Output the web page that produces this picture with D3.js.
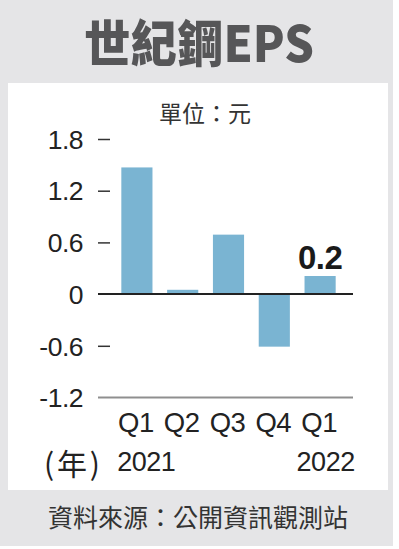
<!DOCTYPE html>
<html><head><meta charset="utf-8">
<script src="https://cdn.jsdelivr.net/npm/d3@7"></script>
<style>html,body{margin:0;padding:0;background:#fff;}svg{display:block;}</style>
</head><body>
<svg id="c" width="399" height="549"></svg>
<script>
const categories = ["Q1","Q2","Q3","Q4","Q1 "];
const quarterLabels = ["Q1","Q2","Q3","Q4","Q1"];
const eps = [1.47, 0.05, 0.69, -0.61, 0.21];
const yTicks = [-1.2, -0.6, 0, 0.6, 1.2, 1.8];
const yearLabels = ["2021", "2022"];
const title = "世紀鋼EPS";
const unit = "單位：元";
const yearUnit = "(年)";
const source = "資料來源：公開資訊觀測站";
const highlight = "0.2";

const svg = d3.select("#c");
const latin = "'Liberation Sans', Arial, sans-serif";
const cjk = "'Noto Sans CJK TC', 'Noto Sans CJK SC', sans-serif";

// frame
svg.append("rect").attr("x",0).attr("y",0).attr("width",393).attr("height",546).attr("fill","#e5e5e7");
svg.append("rect").attr("x",8).attr("y",83).attr("width",380).attr("height",407).attr("fill","#ffffff");

// title
svg.append("text").attr("x",199).attr("y",62).attr("text-anchor","middle")
  .attr("font-family",cjk).attr("font-weight",900).attr("font-size",50)
  .attr("fill","#565658").attr("textLength",230).attr("lengthAdjust","spacingAndGlyphs")
  .text(title);

// unit
svg.append("text").attr("x",205).attr("y",122).attr("text-anchor","middle")
  .attr("font-family",cjk).attr("font-size",23).attr("fill","#333").text(unit);

const y = d3.scaleLinear().domain([-1.2, 1.8]).range([397.5, 139]);
const x = d3.scaleBand().domain(categories).range([114, 343]).paddingInner(0.32).paddingOuter(0.16);

// y axis
const yAxis = svg.append("g").attr("transform","translate(110,0)")
  .call(d3.axisLeft(y).tickValues(yTicks).tickSize(12).tickPadding(15)
    .tickFormat(d => d === 0 ? "0" : d.toFixed(1)));
yAxis.select(".domain").remove();
yAxis.selectAll(".tick line").attr("stroke","#333").attr("stroke-width",1.5)
  .filter(d => d === 0 || d === -1.2).remove();
yAxis.selectAll(".tick text").attr("font-family",latin).attr("font-size",26.5)
  .attr("fill","#222").attr("dy","0.35em").attr("letter-spacing",-0.5);

// bars
svg.append("g").selectAll("rect").data(eps).join("rect")
  .attr("x",(d,i)=>x(categories[i]))
  .attr("width",x.bandwidth())
  .attr("y",d=>y(Math.max(0,d)))
  .attr("height",d=>Math.abs(y(d)-y(0)))
  .attr("fill","#7ab4d2");

// zero line and bottom line
svg.append("line").attr("x1",98).attr("x2",353).attr("y1",y(0)).attr("y2",y(0))
  .attr("stroke","#222").attr("stroke-width",2);
svg.append("line").attr("x1",98).attr("x2",353).attr("y1",y(-1.2)).attr("y2",y(-1.2))
  .attr("stroke","#8f8f8f").attr("stroke-width",2);

// highlight label
const last = categories[categories.length-1];
svg.append("text").attr("x",x(last)+x.bandwidth()/2).attr("y",y(eps[eps.length-1])-7)
  .attr("text-anchor","middle").attr("font-family",latin).attr("font-weight","bold")
  .attr("font-size",33).attr("fill","#1a1a1a").attr("letter-spacing",-0.5).text(highlight);

// x labels
svg.append("g").selectAll("text").data(categories).join("text")
  .attr("x",d=>x(d)+x.bandwidth()/2 - 1).attr("y",432).attr("text-anchor","middle")
  .attr("font-family",latin).attr("font-size",27.5).attr("fill","#222").attr("letter-spacing",-0.5)
  .text((d,i)=>quarterLabels[i]);

svg.append("text").attr("x",x(categories[0])-4).attr("y",471).attr("text-anchor","start")
  .attr("font-family",latin).attr("font-size",27).attr("fill","#222").attr("letter-spacing",-0.5).text(yearLabels[0]);
svg.append("text").attr("x",x(last)+x.bandwidth()+19).attr("y",471).attr("text-anchor","end")
  .attr("font-family",latin).attr("font-size",27).attr("fill","#222").attr("letter-spacing",-0.5).text(yearLabels[1]);
svg.append("text").attr("x",44).attr("y",475).attr("text-anchor","start")
  .attr("font-family",cjk).attr("font-size",30).attr("fill","#222")
  .attr("textLength",56).attr("lengthAdjust","spacing").text(yearUnit);

// footer
svg.append("text").attr("x",198).attr("y",527).attr("text-anchor","middle")
  .attr("font-family",cjk).attr("font-size",25).attr("fill","#333").text(source);
</script>
</body></html>
